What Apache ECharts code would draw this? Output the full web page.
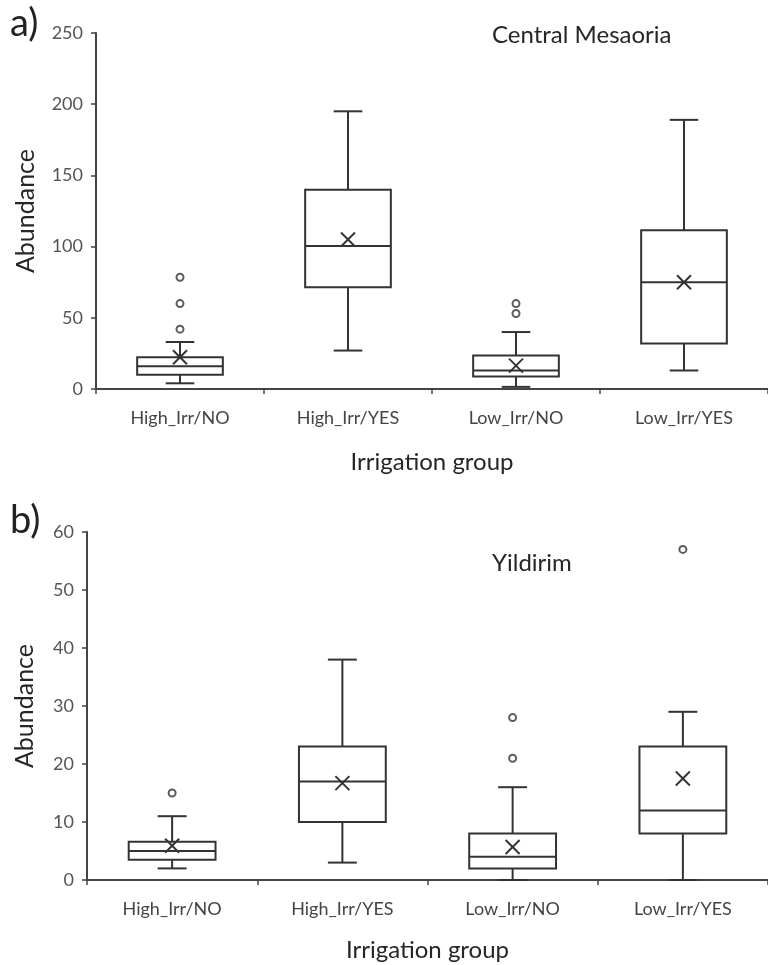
<!DOCTYPE html>
<html>
<head>
<meta charset="utf-8">
<script src="https://cdn.jsdelivr.net/npm/echarts@6/dist/echarts.min.js"></script>
<style>html,body{margin:0;padding:0;background:#fff;}#c{width:768px;height:965px;}</style>
</head>
<body>
<div id="c"></div>
<script>
const categories = ['High_Irr/NO', 'High_Irr/YES', 'Low_Irr/NO', 'Low_Irr/YES'];

// Panel a) Central Mesaoria
const aMin  = [4, 27, 1.5, 13];
const aQ1   = [10, 71.5, 8.7, 32];
const aMed  = [16, 100.5, 13, 75];
const aQ3   = [22.3, 140, 23.5, 111.5];
const aMax  = [33, 195, 40, 189];
const aMean = [22.3, 105, 16.4, 75];
const aOutliers = [[0, 42], [0, 60], [0, 78.5], [2, 53], [2, 60]];
const aTicks = [0, 50, 100, 150, 200, 250];

// Panel b) Yildirim
const bMin  = [2, 3, 0, 0];
const bQ1   = [3.5, 10, 2, 8];
const bMed  = [5, 17, 4, 12];
const bQ3   = [6.6, 23, 8, 23];
const bMax  = [11, 38, 16, 29];
const bMean = [5.9, 16.7, 5.7, 17.5];
const bOutliers = [[0, 15], [2, 21], [2, 28], [3, 57]];
const bTicks = [0, 10, 20, 30, 40, 50, 60];

const FONT = 'Lato';
const INK = '#333';

function boxData(mn, q1, md, q3, mx, mean) {
  return categories.map((c, i) => [i, mn[i], q1[i], md[i], q3[i], mx[i], mean[i]]);
}

function renderBox(params, api) {
  const x = api.value(0);
  const lo = api.coord([x, api.value(1)]);
  const q1 = api.coord([x, api.value(2)]);
  const md = api.coord([x, api.value(3)]);
  const q3 = api.coord([x, api.value(4)]);
  const hi = api.coord([x, api.value(5)]);
  const mean = api.coord([x, api.value(6)]);
  const bw = api.size([1, 0])[0];
  const half = bw * 0.255;
  const cap = bw * 0.085;
  const cx = lo[0];
  const st = {stroke: INK, lineWidth: 2, fill: null};
  const line = (x1, y1, x2, y2) => ({type: 'line', shape: {x1, y1, x2, y2}, style: st});
  const m = 7;
  return {
    type: 'group',
    children: [
      line(cx, hi[1], cx, q3[1]),
      line(cx - cap, hi[1], cx + cap, hi[1]),
      line(cx, q1[1], cx, lo[1]),
      line(cx - cap, lo[1], cx + cap, lo[1]),
      {type: 'rect', shape: {x: cx - half, y: q3[1], width: 2 * half, height: q1[1] - q3[1]}, style: {stroke: INK, lineWidth: 2, fill: 'rgba(0,0,0,0)'}},
      line(cx - half, md[1], cx + half, md[1]),
      line(cx - m, mean[1] - m, cx + m, mean[1] + m),
      line(cx - m, mean[1] + m, cx + m, mean[1] - m)
    ]
  };
}

function xAxis(gi) {
  return {
    type: 'category', gridIndex: gi, data: categories, boundaryGap: true,
    name: 'Irrigation group', nameLocation: 'middle', nameGap: gi === 0 ? 61 : 58,
    nameTextStyle: {fontFamily: FONT, fontSize: 24, color: '#262626'},
    axisLine: {lineStyle: {color: '#444', width: 2}},
    axisTick: {show: true, length: 5, lineStyle: {color: '#444', width: 1.5}},
    axisLabel: {fontFamily: FONT, fontSize: 18, color: '#444', margin: 20},
    splitLine: {show: false}
  };
}

function yAxis(gi, ticks) {
  return {
    type: 'value', gridIndex: gi, min: ticks[0], max: ticks[ticks.length - 1],
    interval: ticks[1] - ticks[0],
    name: 'Abundance', nameLocation: 'middle', nameGap: gi === 0 ? 58 : 50,
    nameTextStyle: {fontFamily: FONT, fontSize: 25, color: '#262626'},
    axisLine: {show: true, lineStyle: {color: '#444', width: 2}},
    axisTick: {show: true, length: 5, lineStyle: {color: '#444', width: 1.5}},
    axisLabel: {fontFamily: FONT, fontSize: 18, color: '#555', margin: 13},
    splitLine: {show: false}
  };
}

const chart = echarts.init(document.getElementById('c'), null, {renderer: 'canvas'});
chart.setOption({
  backgroundColor: '#fff',
  animation: false,
  title: [
    {text: 'a)', left: 5, top: 0, textStyle: {fontFamily: FONT, fontSize: 38, fontWeight: 'normal', color: '#222'}},
    {text: 'Central Mesaoria', left: 487, top: 18, textStyle: {fontFamily: FONT, fontSize: 24, fontWeight: 'normal', color: '#262626'}},
    {text: 'b)', left: 5, top: 497, textStyle: {fontFamily: FONT, fontSize: 38, fontWeight: 'normal', color: '#222'}},
    {text: 'Yildirim', left: 487, top: 546, textStyle: {fontFamily: FONT, fontSize: 24, fontWeight: 'normal', color: '#262626'}}
  ],
  grid: [
    {left: 96, top: 33, right: 0, height: 356},
    {left: 87, top: 532, right: 0, height: 348}
  ],
  xAxis: [xAxis(0), xAxis(1)],
  yAxis: [yAxis(0, aTicks), yAxis(1, bTicks)],
  series: [
    {type: 'custom', xAxisIndex: 0, yAxisIndex: 0, renderItem: renderBox,
     encode: {x: 0, y: [1, 2, 3, 4, 5, 6]}, data: boxData(aMin, aQ1, aMed, aQ3, aMax, aMean)},
    {type: 'scatter', xAxisIndex: 0, yAxisIndex: 0, symbol: 'emptyCircle', symbolSize: 7,
     itemStyle: {color: INK, borderColor: INK, borderWidth: 1.6}, data: aOutliers},
    {type: 'custom', xAxisIndex: 1, yAxisIndex: 1, renderItem: renderBox,
     encode: {x: 0, y: [1, 2, 3, 4, 5, 6]}, data: boxData(bMin, bQ1, bMed, bQ3, bMax, bMean)},
    {type: 'scatter', xAxisIndex: 1, yAxisIndex: 1, symbol: 'emptyCircle', symbolSize: 7,
     itemStyle: {color: INK, borderColor: INK, borderWidth: 1.6}, data: bOutliers}
  ]
});
</script>
</body>
</html>
